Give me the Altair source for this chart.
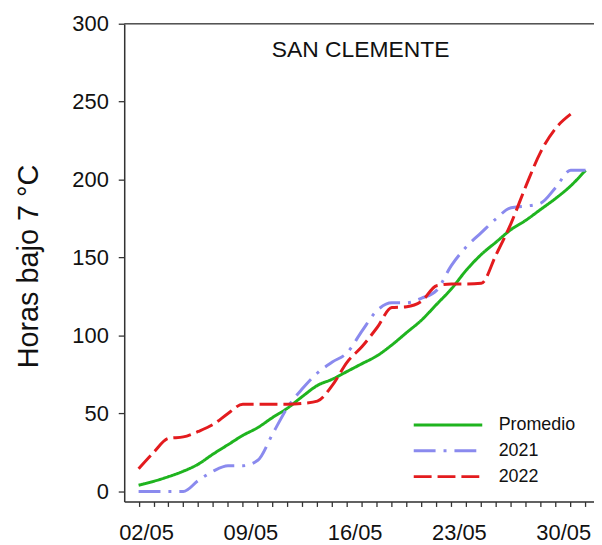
import altair as alt
import pandas as pd

# ---- data ----
day = [1, 2, 3, 4, 5, 6, 7, 8, 9, 10, 11, 12, 13, 14, 15, 16,
       17, 18, 19, 20, 21, 22, 23, 24, 25, 26, 27, 28, 29, 30, 31]
promedio = [4, 6.5, 9.5, 13, 17.5, 24, 30, 36, 41, 47.5, 53.5, 61, 68, 72, 77, 82,
            87, 94, 102, 110, 120, 130, 142, 152, 160, 168, 174, 181, 188, 196, 206]
y2021 = [0, 0, 0, 0, 7, 13, 16.5, 16.5, 20, 37, 54, 66, 76, 83, 89, 103,
         116, 121, 121, 124, 129, 145, 157, 166, 175, 182, 183, 185, 195, 206, 206]
y2022 = [14.6, 25, 34, 35, 38.5, 43, 50, 56, 56, 56, 56, 56.5, 58, 68, 83, 93,
         105, 118, 118.5, 122, 132, 133, 133, 133.5, 152, 172, 196, 218, 233, 242]

series = ["Promedio", "2021", "2022"]
colors = ["#1fb41f", "#8a8aee", "#e31b1e"]
dashes = [[1, 0], [22, 8, 3, 8], [18, 6]]

label_days = [2, 9, 16, 23, 30]
label_text = ["02/05", "09/05", "16/05", "23/05", "30/05"]
y_ticks = [0, 50, 100, 150, 200, 250, 300]
panel_title = ["SAN CLEMENTE"]
y_title = "Horas bajo 7 °C"

rows = []
for name, vals in zip(series, [promedio, y2021, y2022]):
    for d, v in zip(day, vals):
        rows.append({"day": d, "horas": v, "serie": name})
df = pd.DataFrame(rows)
title_df = pd.DataFrame({"t": panel_title})

label_expr = " : ".join(
    [f"datum.value == {d} ? '{t}'" for d, t in zip(label_days, label_text)]
) + " : ''"

FONT = "Liberation Sans"
AXC = "#333333"

x_enc = alt.X(
    "day:Q",
    scale=alt.Scale(domain=[0.0333, 31.567], nice=False, zero=False),
    axis=alt.Axis(
        values=day, labelExpr=label_expr, labelOffset=-7.5, labelFlush=False,
        labelOverlap=False, tickSize=5, grid=False, title=None,
        labelFontSize=22, labelFont=FONT, labelColor="#111", labelPadding=16,
        domainColor=AXC, domainWidth=1.5, tickColor=AXC, tickWidth=1.3,
    ),
)
y_enc = alt.Y(
    "horas:Q",
    scale=alt.Scale(domain=[-6.4, 300], nice=False, zero=False),
    axis=alt.Axis(
        values=y_ticks, tickSize=6, grid=False, title=y_title,
        labelFontSize=22, labelFont=FONT, labelColor="#111", labelPadding=10,
        titleFontSize=29, titleFont=FONT, titleFontWeight="normal", titleColor="#111",
        titleX=-81, titleY=244,
        domainColor=AXC, domainWidth=1.5, tickColor=AXC, tickWidth=1.3,
    ),
)

leg = alt.Legend(
    orient="none", legendX=290, legendY=391, title=None,
    symbolType="M-1,0L5,0", symbolSize=529, symbolStrokeWidth=3,
    labelFontSize=18, labelFont=FONT, labelColor="#111", labelOffset=61,
    rowPadding=4, padding=0,
)

lines = alt.Chart(df).mark_line(strokeWidth=3, interpolate="monotone").encode(
    x=x_enc,
    y=y_enc,
    color=alt.Color("serie:N", scale=alt.Scale(domain=series, range=colors), legend=leg),
    strokeDash=alt.StrokeDash("serie:N", scale=alt.Scale(domain=series, range=dashes), legend=leg),
    order=alt.Order("day:Q"),
)

top_line = alt.Chart(title_df).mark_rule(color="#555555", strokeWidth=1.5).encode(
    y=alt.datum(300)
)

title_text = alt.Chart(title_df).mark_text(
    fontSize=23, font=FONT, color="#111"
).encode(text="t:N", x=alt.value(238), y=alt.value(26))

chart = alt.layer(top_line, lines, title_text).properties(
    width=473, height=481,
    autosize=alt.AutoSizeParams(type="none"),
    padding={"left": 117, "top": 14, "right": 0, "bottom": 42},
).configure_view(stroke=None).configure(background="white")

chart.save("out.html", embed_options={"renderer": "svg", "actions": False})
